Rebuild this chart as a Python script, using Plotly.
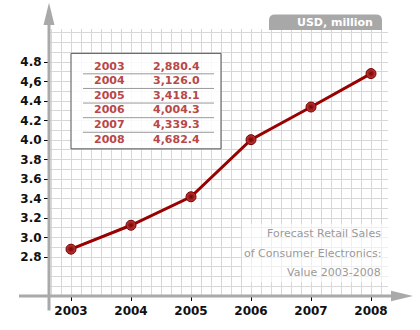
import plotly.graph_objects as go

years = [2003, 2004, 2005, 2006, 2007, 2008]
sales_musd = [2880.4, 3126.0, 3418.1, 4004.3, 4339.3, 4682.4]
ytick_vals = [2.8, 3.0, 3.2, 3.4, 3.6, 3.8, 4.0, 4.2, 4.4, 4.6, 4.8]
ytick_text = ["2.8", "3.0", "3.2", "3.4", "3.6", "3.8", "4.0", "4.2", "4.4", "4,6", "4.8"]
unit_label = "USD, million"
title_lines = ["Forecast Retail Sales", "of Consumer Electronics:", "Value 2003-2008"]

W, H = 420, 330
L, R, T, B = 49, 388, 29, 303  # plot area in pixels


def px(x):
    return (x - L) / (R - L)


def py(y):
    return (B - y) / (B - T)


FONT = "Verdana, DejaVu Sans, sans-serif"
AX_GRAY = "#a9a9a9"

fig = go.Figure()
fig.add_trace(go.Scatter(
    x=years,
    y=[v / 1000 for v in sales_musd],
    mode="lines+markers",
    line=dict(color="#990000", width=3),
    marker=dict(size=10, color="#c83a3a",
                gradient=dict(type="radial", color="#720000"),
                line=dict(color="#720000", width=1)),
    hoverinfo="skip",
    showlegend=False,
))

shapes = []
# axis lines
shapes.append(dict(type="line", xref="paper", yref="paper",
                   x0=px(49), x1=px(49), y0=py(318), y1=py(22),
                   line=dict(color=AX_GRAY, width=3), layer="above"))
shapes.append(dict(type="path", xref="paper", yref="paper",
                   path=f"M {px(49)},{py(2)} L {px(43.5)},{py(25)} L {px(54.5)},{py(25)} Z",
                   fillcolor=AX_GRAY, line=dict(width=0), layer="above"))
shapes.append(dict(type="line", xref="paper", yref="paper",
                   x0=px(19), x1=px(393), y0=py(303), y1=py(303),
                   line=dict(color=AX_GRAY, width=3), layer="above"))
shapes.append(dict(type="path", xref="paper", yref="paper",
                   path=f"M {px(413)},{py(303)} L {px(391)},{py(297.5)} L {px(391)},{py(308.5)} Z",
                   fillcolor=AX_GRAY, line=dict(width=0), layer="above"))

# unit tab (rounded top corners)
x0t, x1t, y0t, y1t, r = 269, 382, 14, 30, 6
shapes.append(dict(type="path", xref="paper", yref="paper",
                   path=(f"M {px(x0t)},{py(y1t)} L {px(x0t)},{py(y0t + r)} "
                         f"Q {px(x0t)},{py(y0t)} {px(x0t + r)},{py(y0t)} "
                         f"L {px(x1t - r)},{py(y0t)} Q {px(x1t)},{py(y0t)} {px(x1t)},{py(y0t + r)} "
                         f"L {px(x1t)},{py(y1t)} Z"),
                   fillcolor="#a8a8a8", line=dict(width=0), layer="above"))

# table box
shapes.append(dict(type="rect", xref="paper", yref="paper",
                   x0=px(71), x1=px(221), y0=py(54), y1=py(152),
                   fillcolor="rgba(255,255,255,0.85)",
                   line=dict(color="#555555", width=1), layer="above"))
for i in range(len(years) - 1):
    yy = 75 + 15 * i
    shapes.append(dict(type="line", xref="paper", yref="paper",
                       x0=px(83), x1=px(214), y0=py(yy), y1=py(yy),
                       line=dict(color="#9a9a9a", width=1), layer="above"))

# white box behind title
shapes.append(dict(type="rect", xref="paper", yref="paper",
                   x0=px(242), x1=px(388), y0=py(229), y1=py(289),
                   fillcolor="rgba(255,255,255,0.6)", line=dict(width=0), layer="above"))

annotations = []
annotations.append(dict(xref="paper", yref="paper", x=px(375), y=py(22.5),
                        xanchor="right", yanchor="middle", showarrow=False,
                        text=unit_label,
                        font=dict(family=FONT, size=11, color="white", weight="bold")))
for i, (yr, v) in enumerate(zip(years, sales_musd)):
    yc = 67 + 15 * i
    annotations.append(dict(xref="paper", yref="paper", x=px(92), y=py(yc),
                            xanchor="left", yanchor="middle", showarrow=False,
                            text=str(yr),
                            font=dict(family=FONT, size=11, color="#b84848", weight="bold")))
    annotations.append(dict(xref="paper", yref="paper", x=px(202), y=py(yc),
                            xanchor="right", yanchor="middle", showarrow=False,
                            text=f"{v:,.1f}",
                            font=dict(family=FONT, size=11, color="#b84848", weight="bold")))
for i, line in enumerate(title_lines):
    annotations.append(dict(xref="paper", yref="paper", x=px(383), y=py(239 + 20 * i),
                            xanchor="right", yanchor="middle", showarrow=False,
                            text=line,
                            font=dict(family=FONT, size=11, color="#9a9a9a")))

fig.update_layout(
    width=W, height=H,
    margin=dict(l=L, r=W - R, t=T, b=H - B, pad=0),
    paper_bgcolor="white", plot_bgcolor="white",
    xaxis=dict(
        range=[2003 - 22 / 60, 2003 + 317 / 60],
        tickmode="array", tickvals=years, ticktext=[str(y) for y in years],
        ticks="outside", ticklen=4, tickwidth=1, tickcolor="#000",
        showline=False, zeroline=False,
        showgrid=True, gridcolor="#d7d7d7", gridwidth=1,
        minor=dict(dtick=1 / 6, tick0=2003, showgrid=True, gridcolor="#d7d7d7", gridwidth=1, ticks=""),
        tickfont=dict(family=FONT, size=12, color="#111", weight="bold"),
        fixedrange=True,
    ),
    yaxis=dict(
        range=[2.4, 5.14],
        tickmode="array", tickvals=ytick_vals, ticktext=ytick_text,
        ticks="outside", ticklen=4, tickwidth=1, tickcolor="#000",
        showline=False, zeroline=False,
        showgrid=True, gridcolor="#d7d7d7", gridwidth=1,
        minor=dict(dtick=0.1, tick0=0, showgrid=True, gridcolor="#d7d7d7", gridwidth=1, ticks=""),
        tickfont=dict(family=FONT, size=12, color="#111", weight="bold"),
        fixedrange=True,
    ),
    shapes=shapes,
    annotations=annotations,
)

fig.write_html("out.html", config={"displayModeBar": False})
